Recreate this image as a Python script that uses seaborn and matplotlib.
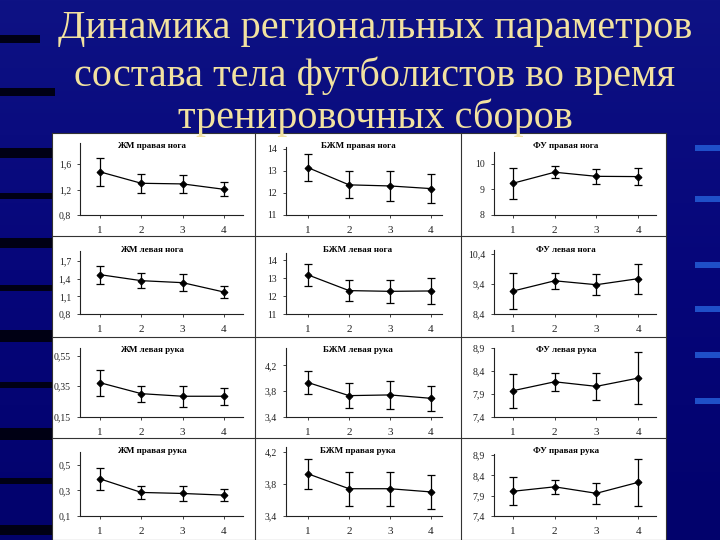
import numpy as np
import pandas as pd
import matplotlib
matplotlib.use('Agg')
import matplotlib.pyplot as plt
import seaborn as sns
from matplotlib.patches import Rectangle

sns.set_theme(style='white')
plt.rcParams['font.family'] = ['Liberation Serif', 'DejaVu Serif']

# ---------------- data ----------------
title_lines = ["Динамика региональных параметров",
               "состава тела футболистов во время",
               "тренировочных сборов"]

stages = [1, 2, 3, 4]

panel_titles = ["ЖМ правая нога", "БЖМ правая нога", "ФУ правая нога",
                "ЖМ левая нога", "БЖМ левая нога", "ФУ левая нога",
                "ЖМ левая рука", "БЖМ левая рука", "ФУ левая рука",
                "ЖМ правая рука", "БЖМ правая рука", "ФУ правая рука"]

zm_r_leg = [1.48, 1.30, 1.29, 1.205]
zm_r_leg_err = [0.22, 0.15, 0.14, 0.11]
bzm_r_leg = [13.15, 12.37, 12.32, 12.20]
bzm_r_leg_err = [0.60, 0.62, 0.68, 0.67]
fu_r_leg = [9.24, 9.67, 9.51, 9.50]
fu_r_leg_err = [0.60, 0.23, 0.28, 0.34]

zm_l_leg = [1.468, 1.366, 1.332, 1.173]
zm_l_leg_err = [0.155, 0.125, 0.14, 0.095]
bzm_l_leg = [13.17, 12.30, 12.26, 12.28]
bzm_l_leg_err = [0.63, 0.60, 0.65, 0.70]
fu_l_leg = [9.16, 9.50, 9.37, 9.57]
fu_l_leg_err = [0.60, 0.27, 0.34, 0.50]

zm_l_arm = [0.372, 0.300, 0.283, 0.283]
zm_l_arm_err = [0.085, 0.052, 0.070, 0.056]
bzm_l_arm = [3.93, 3.726, 3.737, 3.684]
bzm_l_arm_err = [0.18, 0.20, 0.215, 0.195]
fu_l_arm = [7.965, 8.16, 8.06, 8.24]
fu_l_arm_err = [0.37, 0.20, 0.29, 0.57]

zm_r_arm = [0.39, 0.284, 0.276, 0.263]
zm_r_arm_err = [0.085, 0.050, 0.055, 0.046]
bzm_r_arm = [3.925, 3.74, 3.74, 3.70]
bzm_r_arm_err = [0.19, 0.21, 0.21, 0.21]
fu_r_arm = [8.01, 8.12, 7.96, 8.23]
fu_r_arm_err = [0.35, 0.18, 0.26, 0.58]

series = [zm_r_leg, bzm_r_leg, fu_r_leg,
          zm_l_leg, bzm_l_leg, fu_l_leg,
          zm_l_arm, bzm_l_arm, fu_l_arm,
          zm_r_arm, bzm_r_arm, fu_r_arm]
series_err = [zm_r_leg_err, bzm_r_leg_err, fu_r_leg_err,
              zm_l_leg_err, bzm_l_leg_err, fu_l_leg_err,
              zm_l_arm_err, bzm_l_arm_err, fu_l_arm_err,
              zm_r_arm_err, bzm_r_arm_err, fu_r_arm_err]

y_ticks = [[0.8, 1.2, 1.6], [11, 12, 13, 14], [8, 9, 10],
           [0.8, 1.1, 1.4, 1.7], [11, 12, 13, 14], [8.4, 9.4, 10.4],
           [0.15, 0.35, 0.55], [3.4, 3.8, 4.2], [7.4, 7.9, 8.4, 8.9],
           [0.1, 0.3, 0.5], [3.4, 3.8, 4.2], [7.4, 7.9, 8.4, 8.9]]
y_ticklabels = [["0,8", "1,2", "1,6"], ["11", "12", "13", "14"], ["8", "9", "10"],
                ["0,8", "1,1", "1,4", "1,7"], ["11", "12", "13", "14"], ["8,4", "9,4", "10,4"],
                ["0,15", "0,35", "0,55"], ["3,4", "3,8", "4,2"], ["7,4", "7,9", "8,4", "8,9"],
                ["0,1", "0,3", "0,5"], ["3,4", "3,8", "4,2"], ["7,4", "7,9", "8,4", "8,9"]]
y_tops = [1.935, 14.09, 10.46,
          1.87, 14.39, 10.52,
          0.60, 4.47, 8.90,
          0.60, 4.26, 8.93]

# ---------------- layout (pixels) ----------------
W, H = 720, 540
fig = plt.figure(figsize=(7.2, 5.4), dpi=100)
fig.patch.set_facecolor('#0a0a76')

def frac(x0, y0, x1, y1):
    return [x0 / W, 1 - y1 / H, (x1 - x0) / W, (y1 - y0) / H]

# background gradient
bg = fig.add_axes([0, 0, 1, 1], zorder=-10)
grad = np.linspace(0, 1, 256).reshape(-1, 1)
bg.imshow(grad, aspect='auto', cmap=matplotlib.colors.LinearSegmentedColormap.from_list(
    'bgc', ['#0e1284', '#06067a', '#02026c']), extent=[0, W, H, 0])
bg.set_xlim(0, W)
bg.set_ylim(H, 0)
bg.axis('off')
# left shadow stripes
for yy, hh, ww in [(35, 8, 40), (88, 8, 55), (148, 10, 52), (193, 6, 52), (238, 10, 52),
                   (285, 6, 52), (330, 12, 52), (382, 6, 52), (428, 12, 52), (478, 6, 52),
                   (525, 10, 52)]:
    bg.add_patch(Rectangle((0, yy), ww, hh, color='#000014', lw=0))
# right blue marks
for yy in [145, 196, 262, 306, 352, 398]:
    bg.add_patch(Rectangle((695, yy), 25, 6, color='#1f4fc8', lw=0))

# title
for i, (line, yb) in enumerate(zip(title_lines, [38, 86, 128])):
    fig.text(375 / W, 1 - yb / H, line, ha='center', va='baseline',
             fontsize=29, color='#f2e2a0', family=['Liberation Serif', 'DejaVu Serif'])

# table
tab = fig.add_axes(frac(52, 133, 666, 540), zorder=-5)
tab.set_xlim(52, 666)
tab.set_ylim(540, 133)
tab.set_facecolor('white')
for x in [255, 461]:
    tab.axvline(x, color='#333333', lw=0.8)
for y in [236, 337, 438]:
    tab.axhline(y, color='#333333', lw=0.8)
for s in tab.spines.values():
    s.set_color('#333333')
    s.set_linewidth(0.8)
tab.set_xticks([])
tab.set_yticks([])

col_left = [80, 286, 494]
col_right = [243, 442, 656]
col_xlim = [(0.516, 4.46), (0.46, 4.27), (0.545, 4.43)]
col_center = [152, 358, 566]
row_bottom = [215, 314, 416.5, 516]
panel_top = [143, 147, 152, 251, 253, 250, 348, 348, 348, 452, 447, 454]
row_title_y = [146, 250, 350, 451]

for k in range(12):
    r, c = divmod(k, 3)
    ax = fig.add_axes(frac(col_left[c], panel_top[k], col_right[c], row_bottom[r]))
    ax.patch.set_alpha(0)
    df = pd.DataFrame({'stage': stages, 'value': series[k], 'err': series_err[k]})
    ax.errorbar(df['stage'], df['value'], yerr=df['err'], fmt='none',
                ecolor='black', elinewidth=0.9, capsize=3, capthick=0.9)
    sns.lineplot(data=df, x='stage', y='value', ax=ax, color='black', lw=0.9,
                 marker='D', markersize=3.5, markeredgecolor='black')
    ax.set_xlim(*col_xlim[c])
    ax.set_ylim(y_ticks[k][0], y_tops[k])
    ax.set_xticks(stages)
    ax.set_xticklabels([str(s) for s in stages])
    ax.set_yticks(y_ticks[k])
    ax.set_yticklabels(y_ticklabels[k])
    ax.set_xlabel('')
    ax.set_ylabel('')
    ax.tick_params(axis='x', labelsize=8, length=2, width=0.6, pad=6,
                   colors='#222222', direction='out', bottom=True)
    ax.tick_params(axis='y', labelsize=7, length=2.5, width=0.6, pad=4,
                   colors='#222222', direction='out', left=True)
    for side in ['top', 'right']:
        ax.spines[side].set_visible(False)
    for side in ['left', 'bottom']:
        ax.spines[side].set_color('#222222')
        ax.spines[side].set_linewidth(0.8)
    fig.text(col_center[c] / W, 1 - row_title_y[r] / H, panel_titles[k],
             ha='center', va='center', fontsize=6.5, fontweight='bold', color='black')

fig.savefig('out.png', dpi=100, facecolor=fig.get_facecolor())
